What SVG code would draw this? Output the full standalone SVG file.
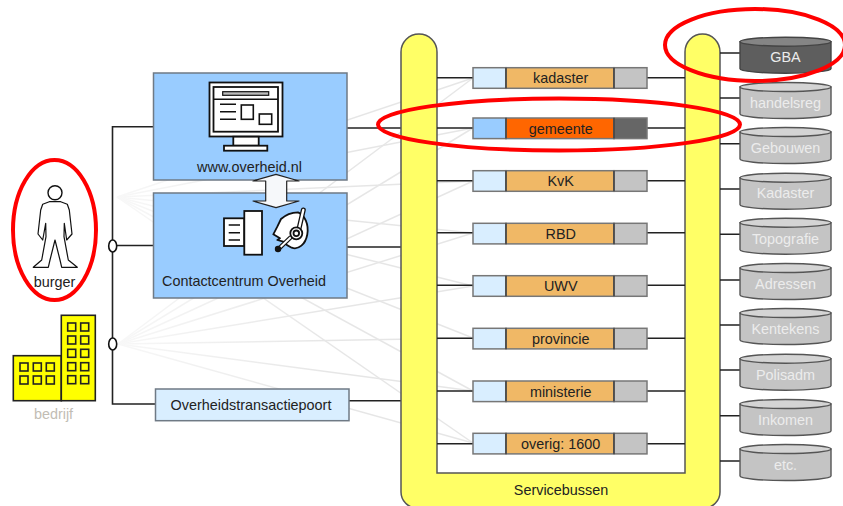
<svg xmlns="http://www.w3.org/2000/svg" width="843" height="506" viewBox="0 0 843 506">
<style>
text{font-family:"Liberation Sans",Arial,sans-serif;font-size:14.4px;fill:#222;text-anchor:middle}
.fan line{stroke:url(#fade);stroke-width:1.5}
.wire path{stroke:#222;stroke-width:1.6;fill:none}
.box{stroke:#6f7a85;stroke-width:1.5}
.blue{fill:#99ccff}
.lt{fill:#d9eeff}
.seg{stroke:#777;stroke-width:1.5}
.or{fill:#f0b866}
.gr{fill:#c4c4c4}
.div{stroke:#333;stroke-width:1.2}
.cyl{fill:#c4c4c4;stroke:#555;stroke-width:1.4}
.cylt{fill:#d4d4d4;stroke:#555;stroke-width:1.4}
.cyltx{fill:#ececec}
.ic{fill:#fff;stroke:#111;stroke-width:1.8}
.il{fill:none;stroke:#111;stroke-width:1.6}
.win{fill:none;stroke:#222;stroke-width:1.6}
.red{fill:none;stroke:#f00;stroke-width:4}
</style>
<defs>
<linearGradient id="fade" gradientUnits="userSpaceOnUse" x1="115" y1="0" x2="330" y2="0">
<stop offset="0" stop-color="#f8f8f8"/><stop offset="1" stop-color="#e6e6e6"/>
</linearGradient>
<g id="cyl">
<path class="cyl" d="M0,5 V32 A45.5,4.5 0 0 0 91,32 V5 Z"/>
<ellipse class="cylt" cx="45.5" cy="5" rx="45.5" ry="4.5"/>
</g>
<g id="cylDark">
<path d="M0,5 V32 A45.5,4.5 0 0 0 91,32 V5 Z" fill="#5e5e5e" stroke="#444" stroke-width="1.4"/>
<ellipse cx="45.5" cy="5" rx="45.5" ry="4.5" fill="#858585" stroke="#444" stroke-width="1.4"/>
</g>
<rect id="w" width="8" height="8" class="win"/>
</defs>

<g id="connectors">
<g class="fan">
<line x1="117" y1="197" x2="473" y2="78"/><line x1="117" y1="197" x2="473" y2="128"/><line x1="117" y1="197" x2="473" y2="181"/><line x1="117" y1="197" x2="473" y2="233"/><line x1="117" y1="197" x2="473" y2="286"/><line x1="117" y1="197" x2="473" y2="338"/><line x1="117" y1="197" x2="473" y2="391"/><line x1="117" y1="197" x2="473" y2="443"/>
<line x1="118" y1="344" x2="473" y2="78"/><line x1="118" y1="344" x2="473" y2="128"/><line x1="118" y1="344" x2="473" y2="181"/><line x1="118" y1="344" x2="473" y2="233"/><line x1="118" y1="344" x2="473" y2="286"/><line x1="118" y1="344" x2="473" y2="338"/><line x1="118" y1="344" x2="473" y2="391"/><line x1="118" y1="344" x2="473" y2="443"/>
</g>
<g class="wire">
<path d="M153,126.7 H112.5 V404 H155"/>
<path d="M112.5,245.5 H153"/>
<path d="M347,128 H401"/><path d="M347,247 H401"/><path d="M349,400.7 H401"/>
</g>
</g>

<g id="servicebussen">
<path d="M401,52 A18,18 0 0 1 437,52 V473 H685 V52 A17.5,18 0 0 1 720,52 V492 A16,16 0 0 1 704,508 H417 A16,16 0 0 1 401,492 Z" fill="#ffff66" stroke="#555" stroke-width="1.5"/>
<text x="561" y="495">Servicebussen</text>
</g>

<g id="wires-rows" class="wire">
<path d="M437,77.7 H473 M647,77.7 H685"/>
<path d="M437,128 H473 M647,128 H685"/>
<path d="M437,180.7 H473 M647,180.7 H685"/>
<path d="M437,232.7 H473 M647,232.7 H685"/>
<path d="M437,285.3 H473 M647,285.3 H685"/>
<path d="M437,338.3 H473 M647,338.3 H685"/>
<path d="M437,391 H473 M647,391 H685"/>
<path d="M437,443.7 H473 M647,443.7 H685"/>
<path d="M720,53 H740 M720,98 H740 M720,143.7 H740 M720,189 H740 M720,234.3 H740 M720,280 H740 M720,325 H740 M720,370 H740 M720,415.7 H740 M720,461 H740"/>
</g>

<g id="burger">
<circle cx="55" cy="192.7" r="7" fill="#fff" stroke="#111" stroke-width="1.4"/>
<path d="M49.3,201.7 L42.7,204.3 L40.7,210 L38,234 L42.7,240 L45.7,223.3 L46,236.7 L41.7,260 L33.3,267.3 H48.3 L50,260 L55,240 L60,260 L61.7,267.3 H77.3 L68.3,260 L64,236.7 L64.3,223.3 L66.7,240 L72,234 L69.3,210 L67.3,204.3 L60.7,201.7 Z" fill="#fff" stroke="#111" stroke-width="1.2" stroke-linejoin="round"/>
<text x="54.5" y="286.5">burger</text>
</g>

<g id="bedrijf">
<rect x="13.3" y="355.7" width="48" height="45" fill="#ffff00" stroke="#222" stroke-width="1.6"/>
<rect x="61.3" y="315.3" width="34" height="85.4" fill="#ffff00" stroke="#222" stroke-width="1.6"/>
<use href="#w" x="20" y="363"/><use href="#w" x="33.3" y="363"/><use href="#w" x="46.3" y="363"/>
<use href="#w" x="20" y="376"/><use href="#w" x="33.3" y="376"/><use href="#w" x="46.3" y="376"/>
<use href="#w" x="67.7" y="323"/><use href="#w" x="80.7" y="323"/>
<use href="#w" x="67.7" y="336"/><use href="#w" x="80.7" y="336"/>
<use href="#w" x="67.7" y="349.3"/><use href="#w" x="80.7" y="349.3"/>
<use href="#w" x="67.7" y="362.7"/><use href="#w" x="80.7" y="362.7"/>
<use href="#w" x="67.7" y="375.7"/><use href="#w" x="80.7" y="375.7"/>
<text x="53.5" y="419" style="fill:#c2bdb4">bedrijf</text>
</g>

<g id="splitter-burger"><ellipse cx="112.7" cy="246" rx="4" ry="6" fill="#fff" stroke="#111" stroke-width="1.6"/></g>
<g id="splitter-bedrijf"><ellipse cx="112.7" cy="344" rx="4" ry="6" fill="#fff" stroke="#111" stroke-width="1.6"/></g>

<g id="overheid">
<rect class="box blue" x="153.5" y="73" width="193.5" height="107"/>
<rect class="ic" x="209.5" y="82.5" width="73" height="54"/>
<rect class="ic" x="213.5" y="87" width="64.5" height="44.7"/>
<path class="il" d="M213.5,99.3 H278"/>
<rect class="il" x="222.7" y="91.7" width="46" height="3.6" style="stroke-width:1.2;fill:#bbb"/>
<path class="il" d="M220,104.3 H236 M220,111.7 H236 M220,119.3 H236"/>
<rect class="il" x="241.3" y="105" width="12" height="14.3"/>
<rect class="il" x="259.3" y="114" width="12.4" height="10.3"/>
<rect class="ic" x="233.3" y="136.7" width="25.4" height="9"/>
<rect class="ic" x="224" y="145.7" width="43.3" height="5"/>
<text x="249.5" y="172">www.overheid.nl</text>
</g>

<g id="contactcentrum">
<rect class="box blue" x="153.5" y="193" width="193.5" height="105"/>
<rect class="ic" x="224" y="218.3" width="20.3" height="27.7"/>
<rect class="ic" x="244.3" y="211" width="17.7" height="43.7"/>
<path class="il" d="M228.7,225 H240 M228.7,232.7 H240 M228.7,240 H240"/>
<path class="ic" d="M273.3,234.3 L277.3,226.7 L281,219 Q288,212.5 298,212.3 A12.5,17.8 0 0 1 291.7,247.7 Q286,245 283.3,241.7 L277.3,240 L280,238.3 Z" stroke-linejoin="round"/>
<path d="M303.3,210 L298.3,231.7" stroke="#111" stroke-width="5" stroke-linecap="round"/>
<path d="M303.3,210 L298.3,231.7" stroke="#fff" stroke-width="2.4" stroke-linecap="round"/>
<path d="M278.5,249 L291,237" stroke="#111" stroke-width="4.5"/>
<path d="M280,247.5 L291,237" stroke="#fff" stroke-width="2"/>
<circle cx="296.3" cy="233.3" r="6" class="ic"/>
<circle cx="296.3" cy="233.3" r="2.8" class="ic"/>
<circle cx="278" cy="249" r="3.2" fill="#111"/>
<text x="244" y="286">Contactcentrum Overheid</text>
</g>

<g id="double-arrow">
<path d="M276,174.3 L253,181 H265.7 V201 H253 L276,207.7 L299,201 H286.7 V181 H299 Z" fill="#f6f8fa" stroke="#222" stroke-width="1.2" stroke-linejoin="round"/>
</g>

<g id="poort">
<rect class="box lt" x="155.5" y="389" width="193.5" height="31.7"/>
<text x="251" y="410">Overheidstransactiepoort</text>
</g>

<g id="row-kadaster"><rect class="seg lt" x="473" y="67.7" width="33" height="20.6"/><rect class="seg or" x="506" y="67.7" width="108" height="20.6"/><rect class="seg gr" x="614" y="67.7" width="33" height="20.6"/><path class="div" d="M506,67.7 V88.3 M614,67.7 V88.3"/><text x="560.7" y="83">kadaster</text></g>
<g id="row-gemeente"><rect class="seg blue" x="473" y="118" width="33" height="20.6"/><rect class="seg" fill="#ff6600" x="506" y="118" width="108" height="20.6"/><rect class="seg" fill="#666" x="614" y="118" width="33" height="20.6"/><path class="div" d="M506,118 V138.6 M614,118 V138.6"/><text x="560.7" y="134">gemeente</text></g>
<g id="row-kvk"><rect class="seg lt" x="473" y="170.7" width="33" height="20.6"/><rect class="seg or" x="506" y="170.7" width="108" height="20.6"/><rect class="seg gr" x="614" y="170.7" width="33" height="20.6"/><path class="div" d="M506,170.7 V191.3 M614,170.7 V191.3"/><text x="560.7" y="186">KvK</text></g>
<g id="row-rbd"><rect class="seg lt" x="473" y="223.3" width="33" height="20.6"/><rect class="seg or" x="506" y="223.3" width="108" height="20.6"/><rect class="seg gr" x="614" y="223.3" width="33" height="20.6"/><path class="div" d="M506,223.3 V243.9 M614,223.3 V243.9"/><text x="560.7" y="238.5">RBD</text></g>
<g id="row-uwv"><rect class="seg lt" x="473" y="275.7" width="33" height="20.6"/><rect class="seg or" x="506" y="275.7" width="108" height="20.6"/><rect class="seg gr" x="614" y="275.7" width="33" height="20.6"/><path class="div" d="M506,275.7 V296.3 M614,275.7 V296.3"/><text x="560.7" y="291">UWV</text></g>
<g id="row-provincie"><rect class="seg lt" x="473" y="328.3" width="33" height="20.6"/><rect class="seg or" x="506" y="328.3" width="108" height="20.6"/><rect class="seg gr" x="614" y="328.3" width="33" height="20.6"/><path class="div" d="M506,328.3 V348.9 M614,328.3 V348.9"/><text x="560.7" y="344">provincie</text></g>
<g id="row-ministerie"><rect class="seg lt" x="473" y="381" width="33" height="20.6"/><rect class="seg or" x="506" y="381" width="108" height="20.6"/><rect class="seg gr" x="614" y="381" width="33" height="20.6"/><path class="div" d="M506,381 V401.6 M614,381 V401.6"/><text x="560.7" y="397">ministerie</text></g>
<g id="row-overig"><rect class="seg lt" x="473" y="433.3" width="33" height="20.6"/><rect class="seg or" x="506" y="433.3" width="108" height="20.6"/><rect class="seg gr" x="614" y="433.3" width="33" height="20.6"/><path class="div" d="M506,433.3 V453.9 M614,433.3 V453.9"/><text x="560.7" y="449">overig: 1600</text></g>

<g id="db-gba"><use href="#cylDark" x="740" y="36.7"/><text class="cyltx" x="785.5" y="62">GBA</text></g>
<g id="db-handelsreg"><use href="#cyl" x="740" y="82"/><text class="cyltx" x="785.5" y="108">handelsreg</text></g>
<g id="db-gebouwen"><use href="#cyl" x="740" y="127"/><text class="cyltx" x="785.5" y="153">Gebouwen</text></g>
<g id="db-kadaster"><use href="#cyl" x="740" y="172.7"/><text class="cyltx" x="785.5" y="198">Kadaster</text></g>
<g id="db-topografie"><use href="#cyl" x="740" y="217.7"/><text class="cyltx" x="785.5" y="244">Topografie</text></g>
<g id="db-adressen"><use href="#cyl" x="740" y="263"/><text class="cyltx" x="785.5" y="289">Adressen</text></g>
<g id="db-kentekens"><use href="#cyl" x="740" y="308"/><text class="cyltx" x="785.5" y="334">Kentekens</text></g>
<g id="db-polisadm"><use href="#cyl" x="740" y="353.7"/><text class="cyltx" x="785.5" y="380">Polisadm</text></g>
<g id="db-inkomen"><use href="#cyl" x="740" y="399"/><text class="cyltx" x="785.5" y="425">Inkomen</text></g>
<g id="db-etc"><use href="#cyl" x="740" y="444"/><text class="cyltx" x="785.5" y="470">etc.</text></g>

<g id="highlights">
<ellipse class="red" cx="54.5" cy="230" rx="41.5" ry="70"/>
<ellipse class="red" cx="559" cy="124.5" rx="181" ry="26"/>
<ellipse class="red" cx="755" cy="45" rx="90" ry="36"/>
</g>
</svg>
